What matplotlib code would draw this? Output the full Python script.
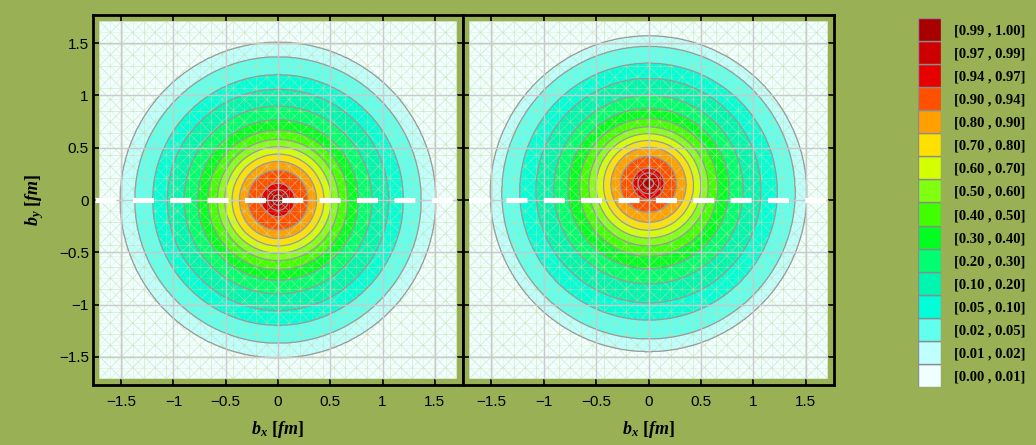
import numpy as np
import matplotlib
matplotlib.use('Agg')
import matplotlib.pyplot as plt
from matplotlib import transforms
from matplotlib.lines import Line2D
from matplotlib.collections import LineCollection
from matplotlib.patches import Rectangle, Circle

# ---------------- data ----------------
levels = [0.0, 0.01, 0.02, 0.05, 0.10, 0.20, 0.30, 0.40, 0.50, 0.60, 0.70,
          0.80, 0.90, 0.94, 0.97, 0.99, 1.00]
level_colors = ['#F0FFFF', '#C0FFFF', '#60FFEE', '#00FFD8', '#00F5B0', '#00FF70',
                '#00FF20', '#40FF00', '#80FF10', '#D4FF00', '#FFE000', '#FFA000',
                '#FF5000', '#E60000', '#CC0000', '#A80000']
legend_labels = ['[0.00 , 0.01]', '[0.01 , 0.02]', '[0.02 , 0.05]', '[0.05 , 0.10]',
                 '[0.10 , 0.20]', '[0.20 , 0.30]', '[0.30 , 0.40]', '[0.40 , 0.50]',
                 '[0.50 , 0.60]', '[0.60 , 0.70]', '[0.70 , 0.80]', '[0.80 , 0.90]',
                 '[0.90 , 0.94]', '[0.94 , 0.97]', '[0.97 , 0.99]', '[0.99 , 1.00]']

# radius (fm) and centre b_y (fm) of each iso-density contour
left_radius = [2.6, 1.51, 1.37, 1.20, 1.06, 0.90, 0.77, 0.67, 0.58, 0.51, 0.44,
               0.37, 0.29, 0.16, 0.10, 0.05, 0.0]
left_center = [0.0] * 17
right_radius = [2.6, 1.51, 1.40, 1.23, 1.075, 0.905, 0.77, 0.66, 0.57, 0.50, 0.43,
                0.36, 0.27, 0.15, 0.10, 0.05, 0.0]
right_center = [0.0, 0.06, 0.07, 0.08, 0.09, 0.10, 0.11, 0.12, 0.13, 0.135, 0.14,
                0.145, 0.15, 0.155, 0.16, 0.16, 0.16]

ticks = [-1.5, -1.0, -0.5, 0.0, 0.5, 1.0, 1.5]
tick_labels = ['\u22121.5', '\u22121', '\u22120.5', '0', '0.5', '1', '1.5']
bmax = 1.71      # extent of the plotted region
lim = 1.77       # frame limits

BG = '#9AB054'

plt.rcParams['font.family'] = ['Liberation Sans', 'DejaVu Sans']
plt.rcParams['mathtext.fontset'] = 'custom'
plt.rcParams['mathtext.rm'] = 'Liberation Serif:bold'
plt.rcParams['mathtext.it'] = 'Liberation Serif:italic:bold'
plt.rcParams['mathtext.bf'] = 'Liberation Serif:bold'
plt.rcParams['lines.scale_dashes'] = False


def field(lev, rad, cen, n=500, nsub=40):
    xs = np.linspace(-bmax, bmax, n)
    X, Y = np.meshgrid(xs, xs)
    idx = np.arange(len(lev))
    t = np.linspace(0, len(lev) - 1, (len(lev) - 1) * nsub + 1)
    L = np.interp(t, idx, lev)
    R = np.interp(t, idx, rad)
    C = np.interp(t, idx, cen)
    Z = np.zeros_like(X)
    for l, r, c in zip(L, R, C):
        inside = X ** 2 + (Y - c) ** 2 <= r ** 2
        Z = np.where(inside, np.maximum(Z, l), Z)
    return X, Y, Z


def mesh_segments(step):
    segs = []
    n = int(round(2 * bmax / step))
    for k in range(n + 1):
        v = -bmax + k * step
        segs.append([(v, -bmax), (v, bmax)])
        segs.append([(-bmax, v), (bmax, v)])
    for k in range(-n, n + 1):
        b = k * step
        segs.append([(-3, -3 + b), (3, 3 + b)])
        segs.append([(-3, 3 + b), (3, -3 + b)])
    return segs


fig = plt.figure(figsize=(10.36, 4.45), dpi=100, facecolor=BG)
W, H = 1036.0, 445.0
ax1 = fig.add_axes([93 / W, 1 - 385 / H, 370 / W, 370 / H])
ax2 = fig.add_axes([463 / W, 1 - 385 / H, 371 / W, 370 / H])

for ax, rad, cen in [(ax1, left_radius, left_center), (ax2, right_radius, right_center)]:
    ax.set_facecolor(BG)
    X, Y, Z = field(levels, rad, cen)
    ax.contourf(X, Y, Z, levels=levels, colors=level_colors, zorder=1, antialiased=True)
    # faint triangulation mesh (stronger in the pale outer region)
    clip = Rectangle((-bmax, -bmax), 2 * bmax, 2 * bmax, transform=ax.transData)
    lc = LineCollection(mesh_segments(2 * bmax / 16), colors='#C9DCA8',
                        linewidths=0.6, alpha=0.35, zorder=2)
    ax.add_collection(lc)
    lc.set_clip_path(clip)
    lc2 = LineCollection(mesh_segments(2 * bmax / 32), colors='#C9DCA8',
                         linewidths=0.5, alpha=0.35, zorder=2)
    ax.add_collection(lc2)
    ring = Circle((0, cen[2]), rad[2], transform=ax.transData)
    lc2.set_clip_path(clip)
    ax.contour(X, Y, Z, levels=[l - 1e-4 for l in levels[1:-1]], colors='#9A9A9A',
               linewidths=0.9, zorder=3)
    # grid lines
    ax.vlines(ticks, -bmax, bmax, colors='#CACACA', linewidth=1.0, zorder=4)
    ax.hlines(ticks, -bmax, bmax, colors='#CACACA', linewidth=1.0, zorder=4)
    ax.set_xlim(-lim, lim)
    ax.set_ylim(-lim, lim)
    ax.set_xticks(ticks)
    ax.set_xticklabels(tick_labels)
    ax.set_yticks(ticks)
    ax.tick_params(direction='in', length=4, width=1.2, top=True, right=True,
                   labelsize=11, colors='black')
    ax.tick_params(axis='x', pad=7)
    ax.tick_params(axis='y', pad=3)
    for sp in ax.spines.values():
        sp.set_linewidth(2.0)
        sp.set_color('black')
        sp.set_zorder(10)
    ax.text(0.5, -(430 - 385) / 370, r'$b_x\ [fm]$', transform=ax.transAxes,
            ha='center', va='center', fontsize=13)

ax1.set_yticklabels(tick_labels)
ax2.set_yticklabels([])
ax1.text(-(93 - 35) / 370, 0.5, r'$b_y\ [fm]$', transform=ax1.transAxes,
         rotation=90, ha='center', va='center', fontsize=13)

# white dashed line at b_y = 0 across both panels
tr = transforms.blended_transform_factory(fig.transFigure, ax1.transData)
dash = Line2D([95 / W, 834 / W], [0, 0], transform=tr, color='white', linewidth=3.7,
              dashes=(15.1, 11.8), solid_capstyle='butt', dash_capstyle='butt', zorder=20)
fig.add_artist(dash)

# legend
axl = fig.add_axes([918 / W, 1 - 387 / H, 23 / W, 369 / H])
axl.barh(np.arange(len(level_colors)), 1, height=1.0, color=level_colors,
         edgecolor='#8C8C8C', linewidth=1.0)
axl.set_xlim(0, 1)
axl.set_ylim(-0.5, len(level_colors) - 0.5)
axl.set_xticks([])
axl.yaxis.tick_right()
axl.set_yticks(np.arange(len(level_colors)))
axl.set_yticklabels(legend_labels, fontfamily='Liberation Serif', fontweight='bold',
                    fontsize=10.5)
axl.tick_params(axis='y', length=0, pad=9)
for sp in axl.spines.values():
    sp.set_visible(False)

fig.savefig('out.png', dpi=100, facecolor=BG)
